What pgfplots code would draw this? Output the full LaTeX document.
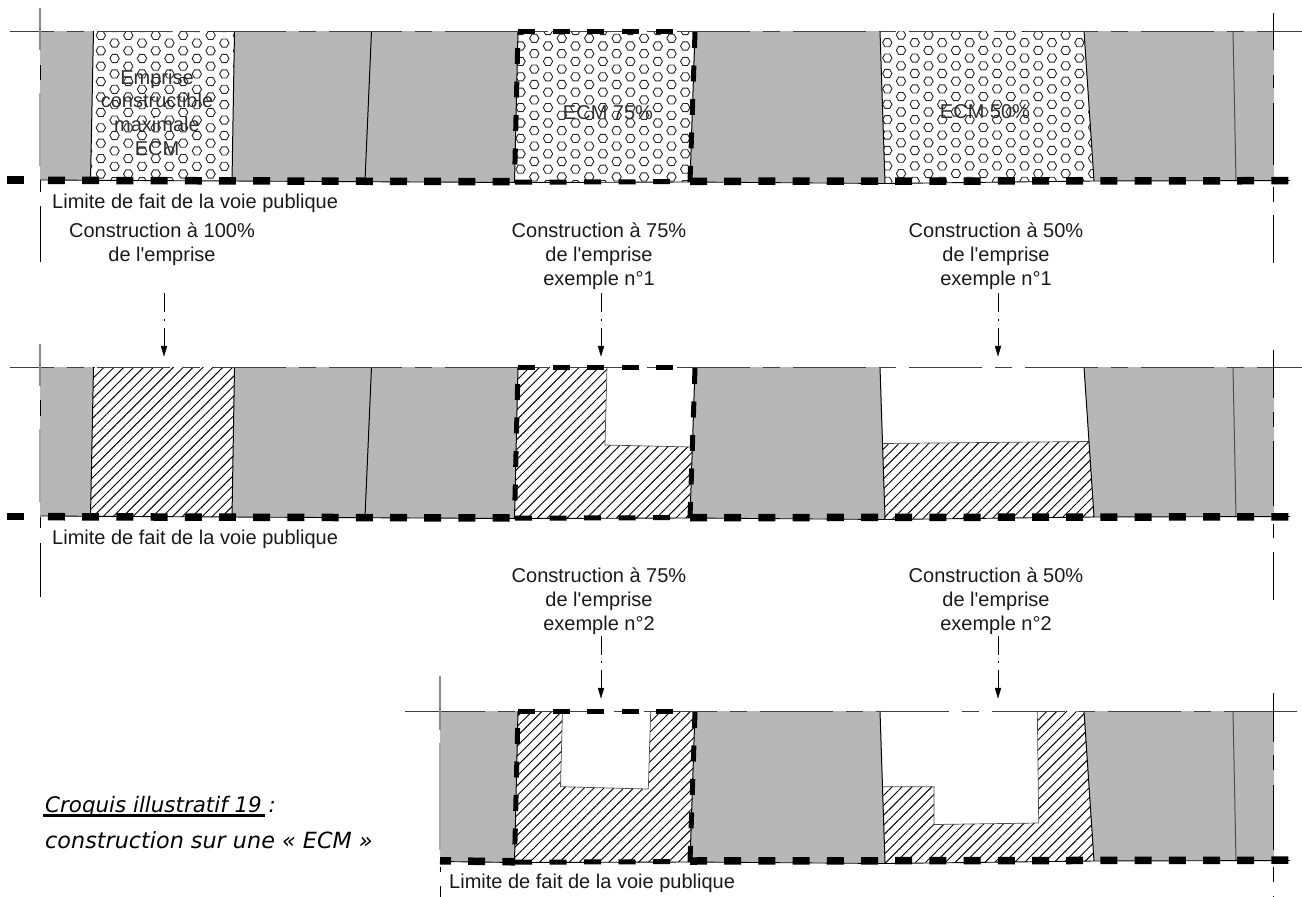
\documentclass[border=0pt]{standalone}
\usepackage{fontspec}
\setmainfont[Ligatures=TeXOff]{Liberation Sans}
\newfontfamily\vfont[Ligatures=TeXOff]{DejaVu Sans}
\usepackage{pgfplots}
\pgfplotsset{compat=1.18}
\usetikzlibrary{patterns,patterns.meta}
\definecolor{grayc}{HTML}{B7B7B7}
\definecolor{txt}{HTML}{1A1A1A}
\newcommand{\hexat}[2]{%
 \pgfpathmoveto{\pgfpoint{#1+4.7pt}{#2}}%
 \pgfpathlineto{\pgfpoint{#1+2.35pt}{#2+4.07pt}}%
 \pgfpathlineto{\pgfpoint{#1-2.35pt}{#2+4.07pt}}%
 \pgfpathlineto{\pgfpoint{#1-4.7pt}{#2}}%
 \pgfpathlineto{\pgfpoint{#1-2.35pt}{#2-4.07pt}}%
 \pgfpathlineto{\pgfpoint{#1+2.35pt}{#2-4.07pt}}%
 \pgfpathclose}
\newcommand{\declhex}[3]{%
 \pgfdeclarepatternformonly{#1}{\pgfpoint{#2-6pt}{#3-6pt}}{\pgfpoint{#2+19.72pt}{#3+13.7pt}}{\pgfqpoint{27.44pt}{15.4pt}}{%
 \pgfsetlinewidth{0.9pt}\hexat{#2}{#3}\hexat{#2+13.72pt}{#3+7.7pt}\pgfusepath{stroke}}}
\declhex{hexA}{4.8pt}{6.9pt}
\declhex{hexB}{12.94pt}{11.7pt}
\declhex{hexC}{9.22pt}{7.3pt}
\tikzset{
 xshape/.style={draw=none,fill=grayc},
 xedge/.style={draw=black,line width=1pt},
 xtop/.style={draw=black!75,line width=0.9pt,dash pattern=on 73pt off 13pt on 17pt off 13pt},
 xvert/.style={draw=black,line width=0.9pt},
 xfaint/.style={draw=black!35,line width=1.2pt},
 xthA/.style={draw=black,line width=7.5pt,dash pattern=on 17pt off 17.2pt},
 xthB/.style={draw=black,line width=5pt,dash pattern=on 17pt off 17.5pt},
 xthC/.style={draw=black,line width=5pt,dash pattern=on 16pt off 17.5pt},
 xhatch/.style={draw=none,pattern={Lines[distance=7pt,angle=45,line width=0.95pt]},pattern color=black},
 xarrow/.style={draw=black,fill=black,line width=0.3pt},
 xlab/.style={anchor=base,text=txt,font=\fontsize{20}{24}\selectfont,inner sep=0pt},
 xecm/.style={anchor=base,text=black!82,font=\fontsize{20}{24}\selectfont,inner sep=0pt}
}
\pgfplotsset{unbounded coords=jump}
\begin{document}
\begin{tikzpicture}
\useasboundingbox (0,0) rectangle (1302pt,897pt);
\begin{axis}[scale only axis,width=1302pt,height=897pt,xmin=0,xmax=1302,ymin=0,ymax=897,y dir=reverse,hide axis,clip=false]
% ---------- ROW 1 gray
\addplot[xshape] coordinates {(40,31)(93.5,31)(90.5,180.5)(40,180)(40,31)};
\addplot[xshape] coordinates {(234.5,31)(518,31)(514.5,182.5)(232,181)(234.5,31)};
\addplot[xshape] coordinates {(695,31)(880,31)(885,183)(690,182)(695,31)};
\addplot[xshape] coordinates {(1084,31)(1274,31)(1274,180.5)(1094,180.5)(1084,31)};
% hex panels
\addplot[draw=none,pattern=hexA,pattern color=black!85] coordinates {(93.5,31)(234.5,31)(232,181)(90.5,181)(93.5,31)};
\addplot[draw=none,pattern=hexB,pattern color=black!85] coordinates {(518,31)(695,31)(690,182)(514.5,183)(518,31)};
\addplot[draw=none,pattern=hexC,pattern color=black!85] coordinates {(880,31)(1084,31)(1094,181)(885,183)(880,31)};
% edges
\addplot[xedge] coordinates {(93.5,31)(90.5,181) (0,nan) (234.5,31)(232,181) (0,nan) (371.5,31)(365,181) (0,nan) (518,31)(514.5,183) (0,nan) (695,31)(690,182) (0,nan) (880,31)(885,183) (0,nan) (1084,31)(1094,181)};
\addplot[xedge,draw=black!70] coordinates {(1233,31)(1236,181)};
\addplot[xedge,line width=0.9pt] coordinates {(40,180)(515,182.5)(690,182)(885,183.5)(1094,181)(1290,180.5)};
\addplot[xtop,dash phase=29pt] coordinates {(10,31)(1302,31)};
% ---------- ROW 2 gray
\addplot[xshape] coordinates {(40,367)(93.5,367)(90.5,516.5)(40,516)(40,367)};
\addplot[xshape] coordinates {(234.5,367)(518,367)(514.5,518.5)(232,517)(234.5,367)};
\addplot[xshape] coordinates {(695,367)(880,367)(885,519)(690,518)(695,367)};
\addplot[xshape] coordinates {(1084,367)(1274,367)(1274,516.5)(1094,516.5)(1084,367)};
\addplot[xhatch] coordinates {(93.5,367)(234.5,367)(232,517)(90.5,517)(93.5,367)};
\addplot[xhatch] coordinates {(518,367)(607,367)(605,445)(692,447)(690,518)(514.5,519)(518,367)};
\addplot[xhatch] coordinates {(883,443.5)(1089,441.5)(1094,517)(885,519)(883,443.5)};
\addplot[xedge,line width=0.7pt,draw=black!70] coordinates {(607,367)(605,445)(692,447) (0,nan) (883,443.5)(1089,441.5)};
\addplot[xedge] coordinates {(93.5,367)(90.5,517) (0,nan) (234.5,367)(232,517) (0,nan) (371.5,367)(365,517) (0,nan) (518,367)(514.5,519) (0,nan) (695,367)(690,518) (0,nan) (880,367)(885,519) (0,nan) (1084,367)(1094,517)};
\addplot[xedge,draw=black!70] coordinates {(1233,367)(1236,517)};
\addplot[xedge,line width=0.9pt] coordinates {(40,516)(515,518.5)(690,518)(885,519.5)(1094,517)(1290,516.5)};
\addplot[xtop,dash phase=29pt] coordinates {(10,367)(1302,367)};
% ---------- ROW 3 gray
\addplot[xshape] coordinates {(440,711)(518,711)(514.5,862.5)(440,861.5)(440,711)};
\addplot[xshape] coordinates {(695,711)(880,711)(885,863)(690,862)(695,711)};
\addplot[xshape] coordinates {(1084,711)(1274,711)(1274,860.5)(1094,860.5)(1084,711)};
\addplot[xhatch] coordinates {(518,711)(562.5,711)(560.5,786.7)(648.3,789)(650.7,711)(695,711)(690,862)(514.5,863)(518,711)};
\addplot[xhatch] coordinates {(883.3,786.7)(934,786.7)(934,824.5)(1038.7,823)(1037.3,711)(1084,711)(1094,861)(885,863)(883.3,786.7)};
\addplot[xedge,line width=0.7pt,draw=black!70] coordinates {(562.5,711)(560.5,786.7)(648.3,789)(650.7,711) (0,nan) (883.3,786.7)(934,786.7)(934,824.5)(1038.7,823)(1037.3,711)};
\addplot[xedge] coordinates {(518,711)(514.5,863) (0,nan) (695,711)(690,862) (0,nan) (880,711)(885,863) (0,nan) (1084,711)(1094,861)};
\addplot[xedge,draw=black!70] coordinates {(1233,711)(1236,861)};
\addplot[xedge,line width=0.9pt] coordinates {(440,861.5)(515,862.5)(690,862)(885,863.5)(1094,861)(1290,860.5)};
\addplot[xtop,dash phase=109pt] coordinates {(405,711)(1302,711)};
\addplot[draw=black!75,line width=0.9pt] coordinates {(405,711)(415,711)};
% ---------- vertical guide lines
\addplot[xvert,draw=black!45,line width=1.2pt] coordinates {(40,8)(40,50) (0,nan) (40,344)(40,386) };
\addplot[xvert] coordinates {(40,65)(40,80) (0,nan) (40,180)(40,192) (0,nan) (40,206)(40,262) (0,nan) (40,400)(40,416) (0,nan) (40,517)(40,528) (0,nan) (40,543)(40,597) (0,nan) (440,867)(440,872) (0,nan) (440,886)(440,897)};
\addplot[xfaint] coordinates {(40,93)(40,166) (0,nan) (40,429)(40,502)};
\addplot[xvert,draw=black!45,line width=1.2pt] coordinates {(440,676)(440,730)};
\addplot[xfaint] coordinates {(440,743)(440,850)};
\addplot[xvert] coordinates {(1273.5,13)(1273.5,50) (0,nan) (1273.5,75)(1273.5,88) (0,nan) (1273.5,103)(1273.5,165) (0,nan) (1273.5,187)(1273.5,202) (0,nan) (1273.5,215)(1273.5,263) (0,nan) (1273.5,350)(1273.5,398) (0,nan) (1273.5,412)(1273.5,427) (0,nan) (1273.5,441)(1273.5,506) (0,nan) (1273.5,524)(1273.5,538) (0,nan) (1273.5,552)(1273.5,600) (0,nan) (1273.5,693)(1273.5,742) (0,nan) (1273.5,755)(1273.5,770) (0,nan) (1273.5,785)(1273.5,850) (0,nan) (1273.5,867)(1273.5,882) (0,nan) (1273.5,896)(1273.5,897)};
% ---------- thick dashed boundaries
\addplot[xthA] coordinates {(7,180)(30,180)};
\addplot[xthA] coordinates {(48,180.3)(515,181.7)};
\addplot[xthA] coordinates {(690,181.3)(1289,180.7)};
\addplot[xthA] coordinates {(7,516.4)(30,516.4)};
\addplot[xthA] coordinates {(48,516.7)(515,518)};
\addplot[xthA] coordinates {(690,517.7)(1289,516.8)};
\addplot[xthA,dash phase=6pt] coordinates {(440,860.8)(515,861.8)};
\addplot[xthA] coordinates {(690,861)(1289,860.2)};
% ECM outline dashes, three rows
\addplot[xthB] coordinates {(518,31)(690,31)};
\addplot[xthB] coordinates {(515,182.2)(675,181.6)};
\addplot[xthC] coordinates {(517.6,48)(514.5,183)};
\addplot[xthC] coordinates {(695,32)(690,182)};
\addplot[xthB] coordinates {(518,367)(690,367)};
\addplot[xthB] coordinates {(515,518.2)(675,517.6)};
\addplot[xthC] coordinates {(517.6,384)(514.5,519)};
\addplot[xthC] coordinates {(695,368)(690,518)};
\addplot[xthB] coordinates {(518,711)(690,711)};
\addplot[xthB] coordinates {(515,862.2)(675,861.6)};
\addplot[xthC] coordinates {(517.6,728)(514.5,863)};
\addplot[xthC] coordinates {(695,712)(690,862)};
% ---------- arrows
\addplot[xvert,line width=0.8pt] coordinates {(164,293)(164,312) (0,nan) (164,319)(164,321) (0,nan) (164,328)(164,348)
 (0,nan) (601,293)(601,312) (0,nan) (601,319)(601,321) (0,nan) (601,328)(601,348)
 (0,nan) (998,293)(998,312) (0,nan) (998,319)(998,321) (0,nan) (998,328)(998,348)
 (0,nan) (601,636)(601,655) (0,nan) (601,661)(601,663) (0,nan) (601,670)(601,690)
 (0,nan) (998,636)(998,655) (0,nan) (998,661)(998,663) (0,nan) (998,670)(998,690)};
\addplot[xarrow] coordinates {(161,346)(167,346)(164,356)(161,346)};
\addplot[xarrow] coordinates {(598,346)(604,346)(601,356)(598,346)};
\addplot[xarrow] coordinates {(995,346)(1001,346)(998,356)(995,346)};
\addplot[xarrow] coordinates {(598,688)(604,688)(601,698)(598,688)};
\addplot[xarrow] coordinates {(995,688)(1001,688)(998,698)(995,688)};
% underline of the caption
\addplot[draw=black,line width=2.6pt] coordinates {(43,815.2)(265,815.2)};
% ---------- text
\node[xecm] at (axis cs:157,84) {Emprise};
\node[xecm] at (axis cs:157,107) {constructible};
\node[xecm] at (axis cs:157,131) {maximale};
\node[xecm] at (axis cs:157,155) {ECM};
\node[xecm] at (axis cs:608,119) {ECM 75\%};
\node[xecm] at (axis cs:985,118) {ECM 50\%};
\node[xlab,anchor=base west] at (axis cs:52,208) {Limite de fait de la voie publique};
\node[xlab,anchor=base west] at (axis cs:52,544.5) {Limite de fait de la voie publique};
\node[xlab,anchor=base west] at (axis cs:449,888) {Limite de fait de la voie publique};
\node[xlab] at (axis cs:162,237) {Construction à 100\%};
\node[xlab] at (axis cs:162,261.5) {de l'emprise};
\node[xlab] at (axis cs:599,237) {Construction à 75\%};
\node[xlab] at (axis cs:599,261.5) {de l'emprise};
\node[xlab] at (axis cs:599,285.5) {exemple n°1};
\node[xlab] at (axis cs:996,237) {Construction à 50\%};
\node[xlab] at (axis cs:996,261.5) {de l'emprise};
\node[xlab] at (axis cs:996,285.5) {exemple n°1};
\node[xlab] at (axis cs:599,582) {Construction à 75\%};
\node[xlab] at (axis cs:599,606) {de l'emprise};
\node[xlab] at (axis cs:599,630) {exemple n°2};
\node[xlab] at (axis cs:996,582) {Construction à 50\%};
\node[xlab] at (axis cs:996,606) {de l'emprise};
\node[xlab] at (axis cs:996,630) {exemple n°2};
\node[xlab,anchor=base west,font=\vfont\itshape\fontsize{21.4}{26}\selectfont,text=black] at (axis cs:45,812) {Croquis illustratif 19 :};
\node[xlab,anchor=base west,font=\vfont\itshape\fontsize{22.3}{26}\selectfont,text=black] at (axis cs:45,848) {construction sur une « ECM »};
\end{axis}
\end{tikzpicture}
\end{document}
